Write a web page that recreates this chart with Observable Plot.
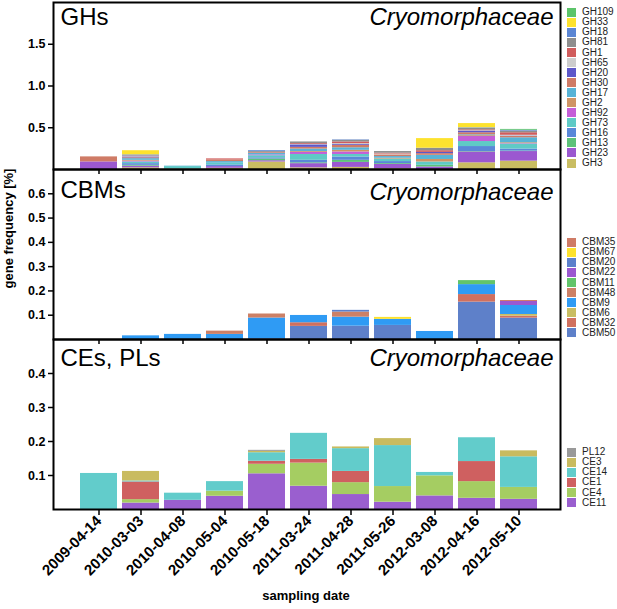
<!DOCTYPE html>
<html><head><meta charset="utf-8">
<script src="https://cdn.jsdelivr.net/npm/d3@7"></script>
<script src="https://cdn.jsdelivr.net/npm/@observablehq/plot@0.6"></script>
<style>
body{margin:0;background:#fff;}
#wrap{position:relative;width:617px;height:609px;font-family:"Liberation Sans",Arial,sans-serif;color:#000;overflow:hidden;background:#fff}
#wrap svg{position:absolute;left:0;top:0;}
.legend{position:absolute;left:567px;font-size:10px;color:#222}
.item{display:flex;align-items:center;height:10.05px;line-height:10px;white-space:nowrap}
.sw{width:9px;height:9px;margin-right:6px;flex:none}
.ylab{position:absolute;width:200px;left:-92px;top:221px;text-align:center;transform:rotate(-90deg);font-size:13px;font-weight:bold}
.xlab{position:absolute;width:200px;left:206px;top:588px;text-align:center;font-size:13px;font-weight:bold}
</style>
</head><body>
<div id="wrap"></div>
<script>
const dates = ["2009-04-14","2010-03-03","2010-04-08","2010-05-04","2010-05-18","2011-03-24","2011-04-28","2011-05-26","2012-03-08","2012-04-16","2012-05-10"];

// GH families in stacking order (bottom -> top)
const ghFamilies = ["GH3","GH23","GH13","GH16","GH73","GH92","GH2","GH17","GH30","GH20","GH65","GH1","GH81","GH18","GH33","GH109"];
const ghColors = ["#c9bd62","#9b58d0","#5dc279","#5a88d8","#5fcac6","#c45ed8","#cf9465","#58b3d6","#cf7b66","#5d57c9","#cdcdcd","#d05c5c","#8e8e8e","#5b86d4","#fde22e","#5cc46a"];
const ghValues = [
  [0, 0.02, 0.005, 0.015, 0.09, 0.02, 0.025, 0.01, 0, 0.08, 0.10],
  [0.091, 0.02, 0, 0.02, 0.015, 0.05, 0.06, 0.05, 0.03, 0.13, 0.115],
  [0, 0.01, 0, 0, 0.02, 0.01, 0.025, 0.01, 0.02, 0.005, 0.005],
  [0, 0.02, 0, 0.02, 0.015, 0.03, 0.04, 0.025, 0, 0.06, 0.025],
  [0, 0.02, 0.03, 0.02, 0.025, 0.07, 0.03, 0.03, 0.04, 0.06, 0.06],
  [0, 0.01, 0, 0, 0.01, 0.025, 0.03, 0, 0, 0.06, 0.005],
  [0, 0.01, 0, 0, 0, 0.01, 0.02, 0.01, 0.03, 0.01, 0.01],
  [0, 0.02, 0.005, 0.02, 0.02, 0.03, 0.03, 0.02, 0.05, 0.01, 0.06],
  [0.06, 0.01, 0, 0.02, 0.01, 0.02, 0.03, 0.02, 0.02, 0.025, 0.015],
  [0, 0.01, 0, 0, 0, 0.03, 0.01, 0, 0.015, 0.02, 0.005],
  [0, 0.005, 0, 0, 0, 0.005, 0.01, 0.01, 0, 0.005, 0.01],
  [0, 0.005, 0, 0.012, 0, 0.01, 0.02, 0.01, 0.02, 0.01, 0.03],
  [0, 0.005, 0, 0, 0.01, 0.02, 0.02, 0.02, 0.03, 0.02, 0.02],
  [0, 0.01, 0, 0, 0.01, 0, 0.005, 0, 0, 0.005, 0.01],
  [0, 0.05, 0, 0, 0, 0, 0, 0, 0.115, 0.05, 0],
  [0, 0, 0, 0, 0, 0, 0, 0, 0, 0, 0.01]
];

// CBM families in stacking order (bottom -> top)
const cbmFamilies = ["CBM50","CBM32","CBM6","CBM9","CBM48","CBM11","CBM22","CBM20","CBM67","CBM35"];
const cbmColors = ["#5e80c9","#d0705f","#c9bd62","#2f9bf4","#cc8066","#62c46a","#9b58d0","#5b80cc","#fde22e","#cf7b66"];
const cbmValues = [
  [0, 0, 0, 0, 0.003, 0.054, 0.055, 0.058, 0, 0.154, 0.088],
  [0, 0, 0, 0, 0, 0.015, 0, 0, 0, 0.031, 0.008],
  [0, 0, 0, 0, 0, 0, 0, 0, 0, 0, 0.007],
  [0, 0.015, 0.021, 0.021, 0.0855, 0.030, 0.037, 0.025, 0.033, 0.041, 0.037],
  [0, 0, 0, 0.0135, 0.0165, 0, 0.021, 0, 0, 0, 0],
  [0, 0, 0, 0, 0, 0, 0, 0, 0, 0.0165, 0],
  [0, 0, 0, 0, 0, 0, 0, 0, 0, 0, 0.0165],
  [0, 0, 0, 0, 0, 0, 0.007, 0, 0, 0, 0],
  [0, 0, 0, 0, 0, 0, 0, 0.008, 0, 0, 0],
  [0, 0, 0, 0, 0, 0, 0, 0, 0, 0, 0.004]
];

// CE / PL families in stacking order (bottom -> top)
const ceFamilies = ["CE11","CE4","CE1","CE14","CE3","PL12"];
const ceColors = ["#9a5fcf","#a5cd62","#cf6060","#62cccb","#c9bb5f","#999999"];
const ceValues = [
  [0, 0.019, 0.027, 0.039, 0.105, 0.0685, 0.044, 0.0215, 0.040, 0.033, 0.030],
  [0, 0.010, 0, 0.015, 0.028, 0.068, 0.035, 0.046, 0.059, 0.049, 0.035],
  [0, 0.052, 0, 0, 0.009, 0.011, 0.033, 0, 0, 0.059, 0],
  [0.106, 0.003, 0.021, 0.028, 0.025, 0.0765, 0.067, 0.1205, 0.010, 0.070, 0.090],
  [0, 0.028, 0, 0, 0.004, 0, 0.005, 0.0205, 0, 0, 0.0175],
  [0, 0, 0, 0, 0.003, 0, 0, 0, 0, 0, 0]
];

const organism = "Cryomorphaceae";
const panelTitles = ["GHs", "CBMs", "CEs, PLs"];
const yMaxes = [2.0, 0.7, 0.5];
const yTickSets = [[0.5, 1.0, 1.5], [0.1, 0.2, 0.3, 0.4, 0.5, 0.6], [0.1, 0.2, 0.3, 0.4]];
const xTitle = "sampling date";
const yTitle = "gene frequency [%]";

const FONT = "Liberation Sans, Arial, Helvetica, sans-serif";

function panel(families, colors, values, yMax, yTicks, mTop, mBottom, title, titleDy, orgDy, showLabels) {
  const rows = [];
  families.forEach((f, i) => values[i].forEach((v, j) => {
    if (v > 0) rows.push({date: dates[j], family: f, value: v});
  }));
  return Plot.plot({
    width: 617, height: 609,
    marginLeft: 53, marginRight: 57, marginTop: mTop, marginBottom: mBottom,
    style: {background: "transparent", fontFamily: FONT, color: "black", overflow: "visible"},
    x: {domain: dates, range: [78, 538], paddingInner: 0.125, paddingOuter: 0, label: null},
    y: {domain: [0, yMax], label: null},
    color: {domain: families, range: colors},
    marks: [
      Plot.barY(rows, {x: "date", y: "value", fill: "family", order: families}),
      Plot.frame({stroke: "black", strokeWidth: 2}),
      Plot.axisY({ticks: yTicks, tickFormat: d3.format(".1f"), tickSize: 5, tickPadding: 3, fontSize: 12.5, fontWeight: "bold", label: null, strokeWidth: 1.5}),
      showLabels
        ? Plot.axisX({tickRotate: -45, tickSize: 6, tickPadding: 3, fontSize: 15, fontWeight: "bold", label: null, strokeWidth: 1.5})
        : Plot.axisX({tickSize: 5, tickFormat: () => "", label: null, strokeWidth: 1.5}),
      Plot.text([title], {frameAnchor: "top-left", textAnchor: "start", lineAnchor: "top", dx: 7, dy: titleDy, fontSize: 24, fill: "black"}),
      Plot.text([organism], {frameAnchor: "top-right", textAnchor: "end", lineAnchor: "top", dx: -7, dy: orgDy, fontSize: 24, fontStyle: "italic", fill: "black"})
    ]
  });
}

const wrap = document.getElementById("wrap");
wrap.appendChild(panel(ghFamilies, ghColors, ghValues, yMaxes[0], yTickSets[0], 2, 440, panelTitles[0], 5, 5, false));
wrap.appendChild(panel(cbmFamilies, cbmColors, cbmValues, yMaxes[1], yTickSets[1], 169, 270, panelTitles[1], 11, 13, false));
wrap.appendChild(panel(ceFamilies, ceColors, ceValues, yMaxes[2], yTickSets[2], 339, 100, panelTitles[2], 9, 9, true));

function legend(families, colors, top) {
  const div = document.createElement("div");
  div.className = "legend";
  div.style.top = top + "px";
  for (let i = families.length - 1; i >= 0; i--) {
    const it = document.createElement("div");
    it.className = "item";
    const sw = document.createElement("span");
    sw.className = "sw";
    sw.style.background = colors[i];
    const tx = document.createElement("span");
    tx.textContent = families[i];
    it.appendChild(sw); it.appendChild(tx);
    div.appendChild(it);
  }
  wrap.appendChild(div);
}
legend(ghFamilies, ghColors, 7.3);
legend(cbmFamilies, cbmColors, 237.3);
legend(ceFamilies, ceColors, 447.3);

const yl = document.createElement("div"); yl.className = "ylab"; yl.textContent = yTitle; wrap.appendChild(yl);
const xl = document.createElement("div"); xl.className = "xlab"; xl.textContent = xTitle; wrap.appendChild(xl);
</script>
</body></html>
